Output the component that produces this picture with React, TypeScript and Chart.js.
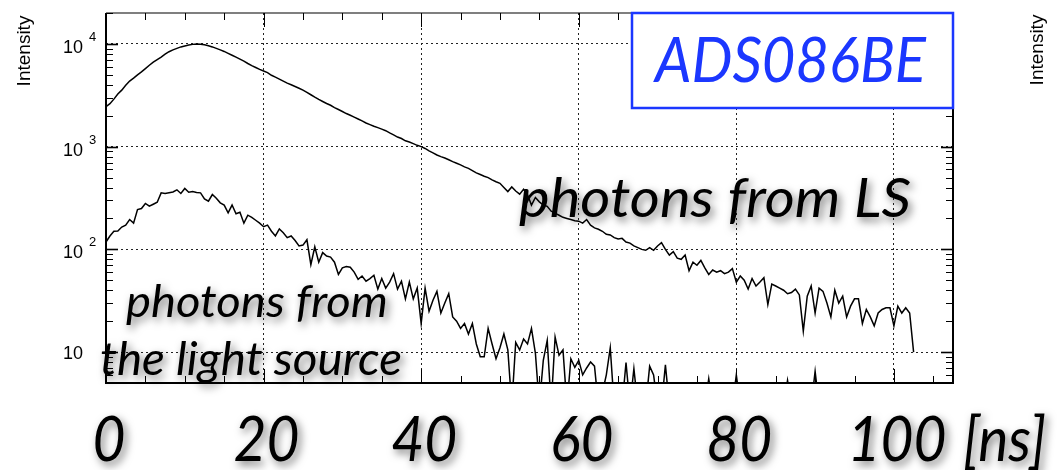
import React, { useEffect, useRef } from 'react';
import { Chart, registerables } from 'chart.js';

Chart.register(...registerables);

// ---- data (time bins of 0.5 ns, starting at 0 ns) ----
const BIN_NS = 0.5;

// photons from the liquid scintillator (upper curve)
const LS_COUNTS = [
  2450, 2620, 2900, 3250, 3550, 3950, 4350, 4650, 5000, 5350,
  5750, 6200, 6650, 7050, 7450, 7950, 8400, 8750, 9050, 9350,
  9550, 9750, 9900, 10000, 9950, 9800, 9600, 9350, 9050, 8750,
  8450, 8100, 7750, 7430, 7100, 6800, 6450, 6150, 5900, 5650,
  5450, 5250, 4950, 4750, 4550, 4350, 4150, 4000, 3850, 3700,
  3550, 3380, 3200, 3030, 2880, 2750, 2630, 2530, 2400, 2300,
  2200, 2100, 2020, 1940, 1860, 1780, 1700, 1640, 1580, 1530,
  1480, 1430, 1360, 1300, 1240, 1200, 1140, 1110, 1070, 1030,
  1000, 960, 910, 870, 830, 800, 775, 745, 715, 690,
  665, 635, 615, 585, 555, 535, 515, 500, 475, 455,
  440, 400, 365, 405, 370, 345, 385, 340, 270, 320,
  290, 270, 262, 235, 225, 215, 205, 200, 195, 190,
  188, 180, 195, 172, 162, 157, 150, 140, 138, 130,
  126, 128, 118, 115, 108, 104, 100, 98, 104, 98,
  108, 116, 100, 88, 95, 82, 80, 88, 62, 75,
  70, 78, 66, 57, 63, 60, 62, 58, 60, 65,
  48, 55, 50, 41, 52, 44, 48, 53, 29, 46,
  44, 42, 40, 37, 38, 41, 36, 16, 35, 44,
  24, 42, 39, 30, 22, 40, 30, 35, 22, 28,
  33, 33, 19, 26, 22, 18, 24, 26, 27, 27,
  18, 28, 24, 27, 24, 10,
];

// photons from the light source (lower curve); 3 = below the visible floor
const SOURCE_COUNTS = [
  118, 135, 150, 151, 165, 172, 195, 180, 244, 250,
  280, 263, 275, 288, 355, 350, 356, 362, 380, 350,
  392, 360, 365, 358, 355, 310, 294, 342, 315, 284,
  270, 227, 270, 222, 230, 180, 215, 205, 192, 180,
  166, 172, 150, 135, 158, 145, 130, 135, 122, 108,
  110, 124, 71, 106, 75, 93, 86, 84, 75, 57,
  66, 68, 67, 60, 51, 55, 49, 52, 56, 41,
  52, 42, 48, 58, 41, 49, 33, 48, 33, 42,
  19, 42, 25, 32, 39, 24, 30, 37, 22, 20,
  17, 19, 15, 19, 12, 9, 9, 17, 12, 8.6,
  11, 15, 10.5, 3, 12.4, 10.5, 13.4, 12, 17, 9.7,
  3, 8.3, 13, 3, 14, 9.3, 10.5, 3, 8.6, 7.1,
  8.3, 6, 7, 8, 7.3, 3, 4, 6, 11, 3,
  3, 3, 7.9, 3, 6.9, 3, 3, 3, 7.3, 6,
  3, 3, 7.5, 3, 3, 3, 3, 3, 3, 3,
  3, 3, 3, 5.5, 3, 3, 3, 3, 3, 3,
  6, 3, 3, 3, 3, 3, 3, 3, 3, 3,
  3, 3, 3, 5.3, 3, 3, 3, 3, 3, 3,
  6.5, 3, 3, 3, 3, 3, 3, 3, 3, 3,
  3, 3, 3, 3, 3, 3, 3, 3, 3, 3,
  3, 3, 3, 3, 3, 3,
];

const X_MAJOR_TICKS = [0, 20, 40, 60, 80, 100];
const X_TICK_LABELS = ['0', '20', '40', '60', '80', '100'];
const X_UNIT_LABEL = '[ns]';
const Y_DECADES = [10, 100, 1000, 10000];
const Y_EXPONENTS = ['', '2', '3', '4'];
const Y_TITLE = 'Intensity';
const BOX_LABEL = 'ADS086BE';
const LS_LABEL = 'photons from LS';
const SOURCE_LABEL_1 = 'photons from';
const SOURCE_LABEL_2 = 'the light source';

const X_MIN = 0;
const X_MAX = 107.5;
const X_MINOR_STEP = 5;
const Y_MIN = 5;
const Y_MAX = 20000;

// ---- styles ----
const W = 1058;
const H = 470;
const BLUE = '#1b37ff';
const BIG_FONT = 'Lato, "Open Sans", sans-serif';
const SMALL_FONT = '"Liberation Sans", Arial, sans-serif';

function drawText(ctx: CanvasRenderingContext2D, text: string, left: number, baseline: number,
  size: number, color: string, targetWidth: number | null, shadow: boolean, italic = true) {
  ctx.save();
  ctx.font = `${italic ? 'italic ' : ''}${size}px ${BIG_FONT}`;
  ctx.fillStyle = color;
  ctx.textAlign = 'left';
  ctx.textBaseline = 'alphabetic';
  const w = ctx.measureText(text).width;
  const sx = targetWidth ? targetWidth / w : 1;
  if (shadow) {
    ctx.shadowColor = 'rgba(0,0,0,0.55)';
    ctx.shadowBlur = 8;
    ctx.shadowOffsetX = 3;
    ctx.shadowOffsetY = 4;
  }
  ctx.translate(left, baseline);
  ctx.scale(sx, 1);
  ctx.fillText(text, 0, 0);
  ctx.restore();
}

const decorPlugin = {
  id: 'decor',
  afterDraw(chart: any) {
    const { ctx, chartArea: a, scales } = chart;
    const xs = scales.x;
    const ys = scales.y;
    const seg = (x1: number, y1: number, x2: number, y2: number) => {
      ctx.beginPath();
      ctx.moveTo(x1, y1);
      ctx.lineTo(x2, y2);
      ctx.stroke();
    };
    ctx.save();
    ctx.strokeStyle = '#000';
    // ticks on x (bottom and top)
    ctx.lineWidth = 1;
    for (let v = X_MIN; v <= X_MAX + 1e-9; v += X_MINOR_STEP) {
      const px = Math.round(xs.getPixelForValue(v)) + 0.5;
      const len = v % 20 === 0 ? 14 : 7;
      seg(px, a.bottom, px, a.bottom - len);
      seg(px, a.top, px, a.top + len);
    }
    // ticks on y (left and right), log minor ticks
    for (let e = 0; e <= 4; e++) {
      for (let m = 1; m <= 9; m++) {
        const v = m * Math.pow(10, e);
        if (v < Y_MIN || v > Y_MAX) continue;
        const py = Math.round(ys.getPixelForValue(v)) + 0.5;
        const len = m === 1 ? 12 : 7;
        ctx.lineWidth = m === 1 ? 1.6 : 1;
        seg(a.left, py, a.left + len, py);
        seg(a.right, py, a.right - len, py);
      }
    }
    // frame
    ctx.lineWidth = 2;
    ctx.beginPath();
    ctx.moveTo(a.left, a.top);
    ctx.lineTo(a.left, a.bottom);
    ctx.lineTo(a.right, a.bottom);
    ctx.lineTo(a.right, a.top);
    ctx.stroke();
    ctx.lineWidth = 1.2;
    seg(a.left, a.top, a.right, a.top);

    // y tick labels 10^n
    ctx.fillStyle = '#000';
    ctx.textBaseline = 'alphabetic';
    Y_DECADES.forEach((v, i) => {
      const py = ys.getPixelForValue(v);
      const exp = Y_EXPONENTS[i];
      ctx.font = `18px ${SMALL_FONT}`;
      ctx.textAlign = 'right';
      ctx.fillText('10', 83, py + (exp ? 9 : 7));
      if (exp) {
        ctx.font = `13px ${SMALL_FONT}`;
        ctx.textAlign = 'left';
        ctx.fillText(exp, 89, py - 3);
      }
    });

    // y titles (this panel and the neighbouring one on the right)
    [[25, 51], [1038, 50]].forEach(([cx, cy]) => {
      ctx.save();
      ctx.translate(cx, cy);
      ctx.rotate(-Math.PI / 2);
      ctx.font = `19px ${SMALL_FONT}`;
      ctx.textAlign = 'center';
      ctx.textBaseline = 'middle';
      ctx.fillText(Y_TITLE, 0, 0);
      ctx.restore();
    });

    // blue label box
    ctx.fillStyle = '#fff';
    ctx.fillRect(631, a.top, a.right - 631, 108 - a.top);
    ctx.strokeStyle = BLUE;
    ctx.lineWidth = 2.5;
    ctx.strokeRect(632, a.top, a.right - 632, 108 - a.top);
    drawText(ctx, BOX_LABEL, 655, 82, 62, BLUE, 271, false);

    // annotations
    drawText(ctx, LS_LABEL, 519, 217, 55, '#000', 392, true);
    drawText(ctx, SOURCE_LABEL_1, 126, 317, 45, '#000', 262, true);
    drawText(ctx, SOURCE_LABEL_2, 100, 375, 46, '#000', 302, true);

    // x tick labels (big italic)
    ctx.font = `italic 63px ${BIG_FONT}`;
    const ref = ctx.measureText('20').width;
    const hs = 66 / ref;
    X_MAJOR_TICKS.forEach((v, i) => {
      const t = X_TICK_LABELS[i];
      ctx.font = `italic 63px ${BIG_FONT}`;
      const w = ctx.measureText(t).width * hs;
      const cx = xs.getPixelForValue(v) + 3;
      drawText(ctx, t, cx - w / 2, 461, 63, '#000', w, true);
    });
    ctx.font = `italic 63px ${BIG_FONT}`;
    drawText(ctx, X_UNIT_LABEL, 963, 461, 63, '#000', ctx.measureText(X_UNIT_LABEL).width * hs, true);
    ctx.restore();
  },
};

export default function App() {
  const ref = useRef<HTMLCanvasElement | null>(null);
  useEffect(() => {
    const canvas = ref.current;
    if (!canvas) return;
    const toPoints = (arr: number[]) => arr.map((v, i) => ({ x: i * BIN_NS, y: v }));
    const chart = new Chart(canvas, {
      type: 'line',
      data: {
        datasets: [
          { label: LS_LABEL, data: toPoints(LS_COUNTS), borderColor: '#000', borderWidth: 1.5, pointRadius: 0, fill: false, tension: 0 },
          { label: SOURCE_LABEL_2, data: toPoints(SOURCE_COUNTS), borderColor: '#000', borderWidth: 1.5, pointRadius: 0, fill: false, tension: 0 },
        ],
      },
      options: {
        responsive: false,
        animation: false,
        devicePixelRatio: 1,
        layout: { padding: { left: 106, right: W - 953, top: 13, bottom: H - 383 } },
        plugins: { legend: { display: false }, tooltip: { enabled: false } },
        scales: {
          x: {
            type: 'linear',
            min: X_MIN,
            max: X_MAX,
            afterBuildTicks: (s: any) => { s.ticks = X_MAJOR_TICKS.map((v) => ({ value: v })); },
            ticks: { display: false },
            grid: { drawTicks: false, color: '#222', lineWidth: 1 },
            border: { display: false, dash: [2, 3] },
          },
          y: {
            type: 'logarithmic',
            min: Y_MIN,
            max: Y_MAX,
            afterBuildTicks: (s: any) => { s.ticks = Y_DECADES.map((v) => ({ value: v })); },
            ticks: { display: false },
            grid: { drawTicks: false, color: '#222', lineWidth: 1 },
            border: { display: false, dash: [2, 3] },
          },
        },
      },
      plugins: [decorPlugin],
    });
    return () => chart.destroy();
  }, []);
  return (
    <div style={{ position: 'absolute', left: 0, top: 0, width: W, height: H, background: '#fff' }}>
      <canvas ref={ref} width={W} height={H} style={{ display: 'block' }} />
    </div>
  );
}
